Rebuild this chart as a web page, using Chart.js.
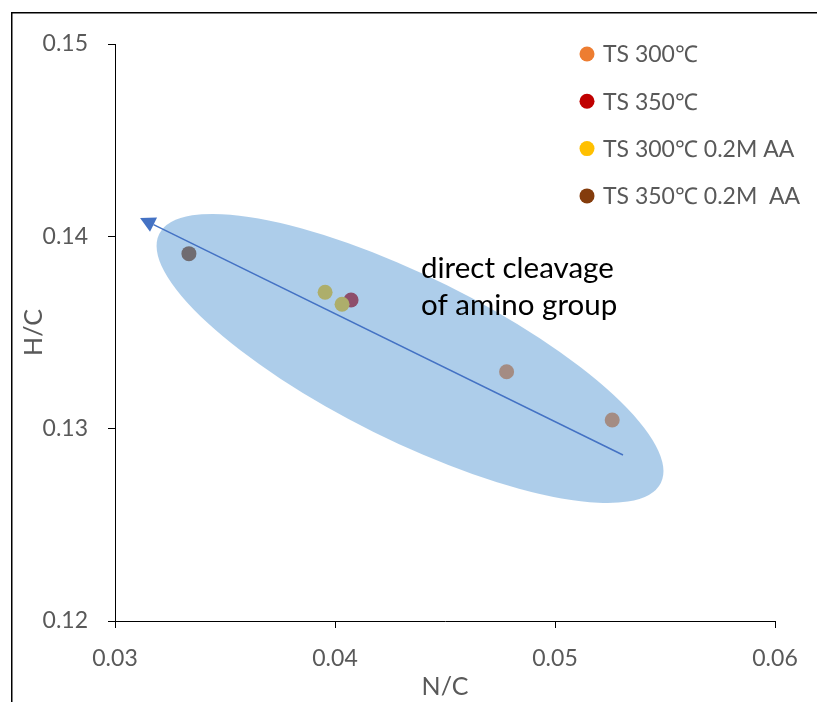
<!DOCTYPE html>
<html>
<head>
<meta charset="utf-8">
<title>H/C vs N/C</title>
<script src="https://cdn.jsdelivr.net/npm/chart.js@4/dist/chart.umd.min.js"></script>
<style>
  html, body { margin: 0; padding: 0; background: #fff; }
  #wrap { width: 817px; height: 702px; }
</style>
</head>
<body>
<div id="wrap"><canvas id="chart" width="817" height="702"></canvas></div>
<script>
// Series: [N/C, H/C] pairs
const seriesLabels = ['TS 300℃', 'TS 350℃', 'TS 300℃ 0.2M AA', 'TS 350℃ 0.2M  AA'];
const seriesColors = ['#ED7D31', '#C00000', '#FFC000', '#843C0C'];
const ts300 = [[0.0478, 0.13296], [0.0526, 0.13045]];
const ts350 = [[0.04073, 0.13669]];
const ts300AA = [[0.03955, 0.13709], [0.04032, 0.13647]];
const ts350AA = [[0.03336, 0.13910]];

const xTicks = [0.03, 0.04, 0.05, 0.06];
const yTicks = [0.12, 0.13, 0.14, 0.15];

// Trend arrow (tail -> head) and shaded region, in data units
const arrowTail = [0.05309, 0.12863];
const arrowHead = [0.03114, 0.14095];
const regionCenter = [0.04341, 0.13365];
const noteLines = ['direct cleavage', 'of amino group'];

const FONT = 'Lato, "Open Sans", sans-serif';
const GREY = '#595959';

const toPoints = arr => arr.map(p => ({ x: p[0], y: p[1] }));
const allSeries = [ts300, ts350, ts300AA, ts350AA];

const datasets = allSeries.map((s, i) => ({
  label: seriesLabels[i],
  data: toPoints(s),
  backgroundColor: seriesColors[i],
  borderColor: seriesColors[i],
  borderWidth: 0,
  pointRadius: 7.5,
  pointHoverRadius: 7.5,
  order: allSeries.length - 1 - i
}));

// outer frame, shaded region, arrow, note and legend
const overlay = {
  id: 'overlay',
  beforeDraw(chart) {
    const ctx = chart.ctx;
    ctx.save();
    ctx.strokeStyle = '#000';
    ctx.lineWidth = 1.5;
    ctx.beginPath();
    ctx.moveTo(11.75, 702);
    ctx.lineTo(11.75, 12.75);
    ctx.lineTo(817, 12.75);
    ctx.stroke();
    ctx.restore();
  },
  afterDatasetsDraw(chart) {
    const ctx = chart.ctx;
    const xs = chart.scales.x, ys = chart.scales.y;
    const px = v => xs.getPixelForValue(v);
    const py = v => ys.getPixelForValue(v);

    ctx.save();
    // shaded ellipse
    ctx.fillStyle = 'rgba(91,155,213,0.5)';
    ctx.beginPath();
    ctx.ellipse(px(regionCenter[0]), py(regionCenter[1]), 280, 82, 26.4 * Math.PI / 180, 0, Math.PI * 2);
    ctx.fill();

    // arrow
    const x0 = px(arrowTail[0]), y0 = py(arrowTail[1]);
    const x1 = px(arrowHead[0]), y1 = py(arrowHead[1]);
    const ang = Math.atan2(y1 - y0, x1 - x0);
    const len = 15, half = 8;
    const bx = x1 - len * Math.cos(ang), by = y1 - len * Math.sin(ang);
    ctx.strokeStyle = '#4472C4';
    ctx.lineWidth = 1.5;
    ctx.beginPath();
    ctx.moveTo(x0, y0);
    ctx.lineTo(bx, by);
    ctx.stroke();
    ctx.fillStyle = '#4472C4';
    ctx.beginPath();
    ctx.moveTo(x1, y1);
    ctx.lineTo(bx + half * Math.sin(ang), by - half * Math.cos(ang));
    ctx.lineTo(bx - half * Math.sin(ang), by + half * Math.cos(ang));
    ctx.closePath();
    ctx.fill();

    // note
    ctx.fillStyle = '#000';
    ctx.font = '29.5px ' + FONT;
    ctx.textBaseline = 'middle';
    ctx.textAlign = 'left';
    ctx.fillText(noteLines[0], 421, 268);
    ctx.fillText(noteLines[1], 421, 305);

    // legend
    ctx.font = '23px ' + FONT;
    seriesLabels.forEach((lab, i) => {
      const yy = 54 + i * 47.3;
      ctx.fillStyle = seriesColors[i];
      ctx.beginPath();
      ctx.arc(587, yy, 7.5, 0, Math.PI * 2);
      ctx.fill();
      ctx.fillStyle = GREY;
      ctx.fillText(lab, 603, yy + 1);
    });
    ctx.restore();
  }
};

new Chart(document.getElementById('chart'), {
  type: 'scatter',
  data: { datasets },
  options: {
    responsive: false,
    animation: false,
    layout: { padding: { top: 44, right: 42, left: 0, bottom: 0 } },
    plugins: { legend: { display: false }, tooltip: { enabled: false } },
    scales: {
      x: {
        type: 'linear',
        min: xTicks[0],
        max: xTicks[xTicks.length - 1],
        afterBuildTicks: s => { s.ticks = xTicks.map(v => ({ value: v })); },
        afterFit: s => { s.height = 81; },
        grid: { drawOnChartArea: false, drawTicks: true, tickLength: 7, color: '#000', lineWidth: 1 },
        border: { display: true, color: '#000', width: 1 },
        ticks: { color: GREY, font: { family: FONT, size: 23 }, padding: 17, callback: v => v.toFixed(2), maxRotation: 0 },
        title: { display: true, text: 'N/C', color: GREY, font: { family: FONT, size: 25 }, padding: { top: 0, bottom: 0 } }
      },
      y: {
        type: 'linear',
        min: yTicks[0],
        max: yTicks[yTicks.length - 1],
        afterBuildTicks: s => { s.ticks = yTicks.map(v => ({ value: v })); },
        afterFit: s => { s.width = 115; },
        grid: { drawOnChartArea: false, drawTicks: true, tickLength: 7, color: '#000', lineWidth: 1 },
        border: { display: true, color: '#000', width: 1 },
        ticks: { color: GREY, font: { family: FONT, size: 23 }, padding: 20, callback: v => v.toFixed(2) },
        title: { display: true, text: 'H/C', color: GREY, font: { family: FONT, size: 25 }, padding: { top: 19, bottom: 0 } }
      }
    }
  },
  plugins: [overlay]
});
</script>
</body>
</html>
